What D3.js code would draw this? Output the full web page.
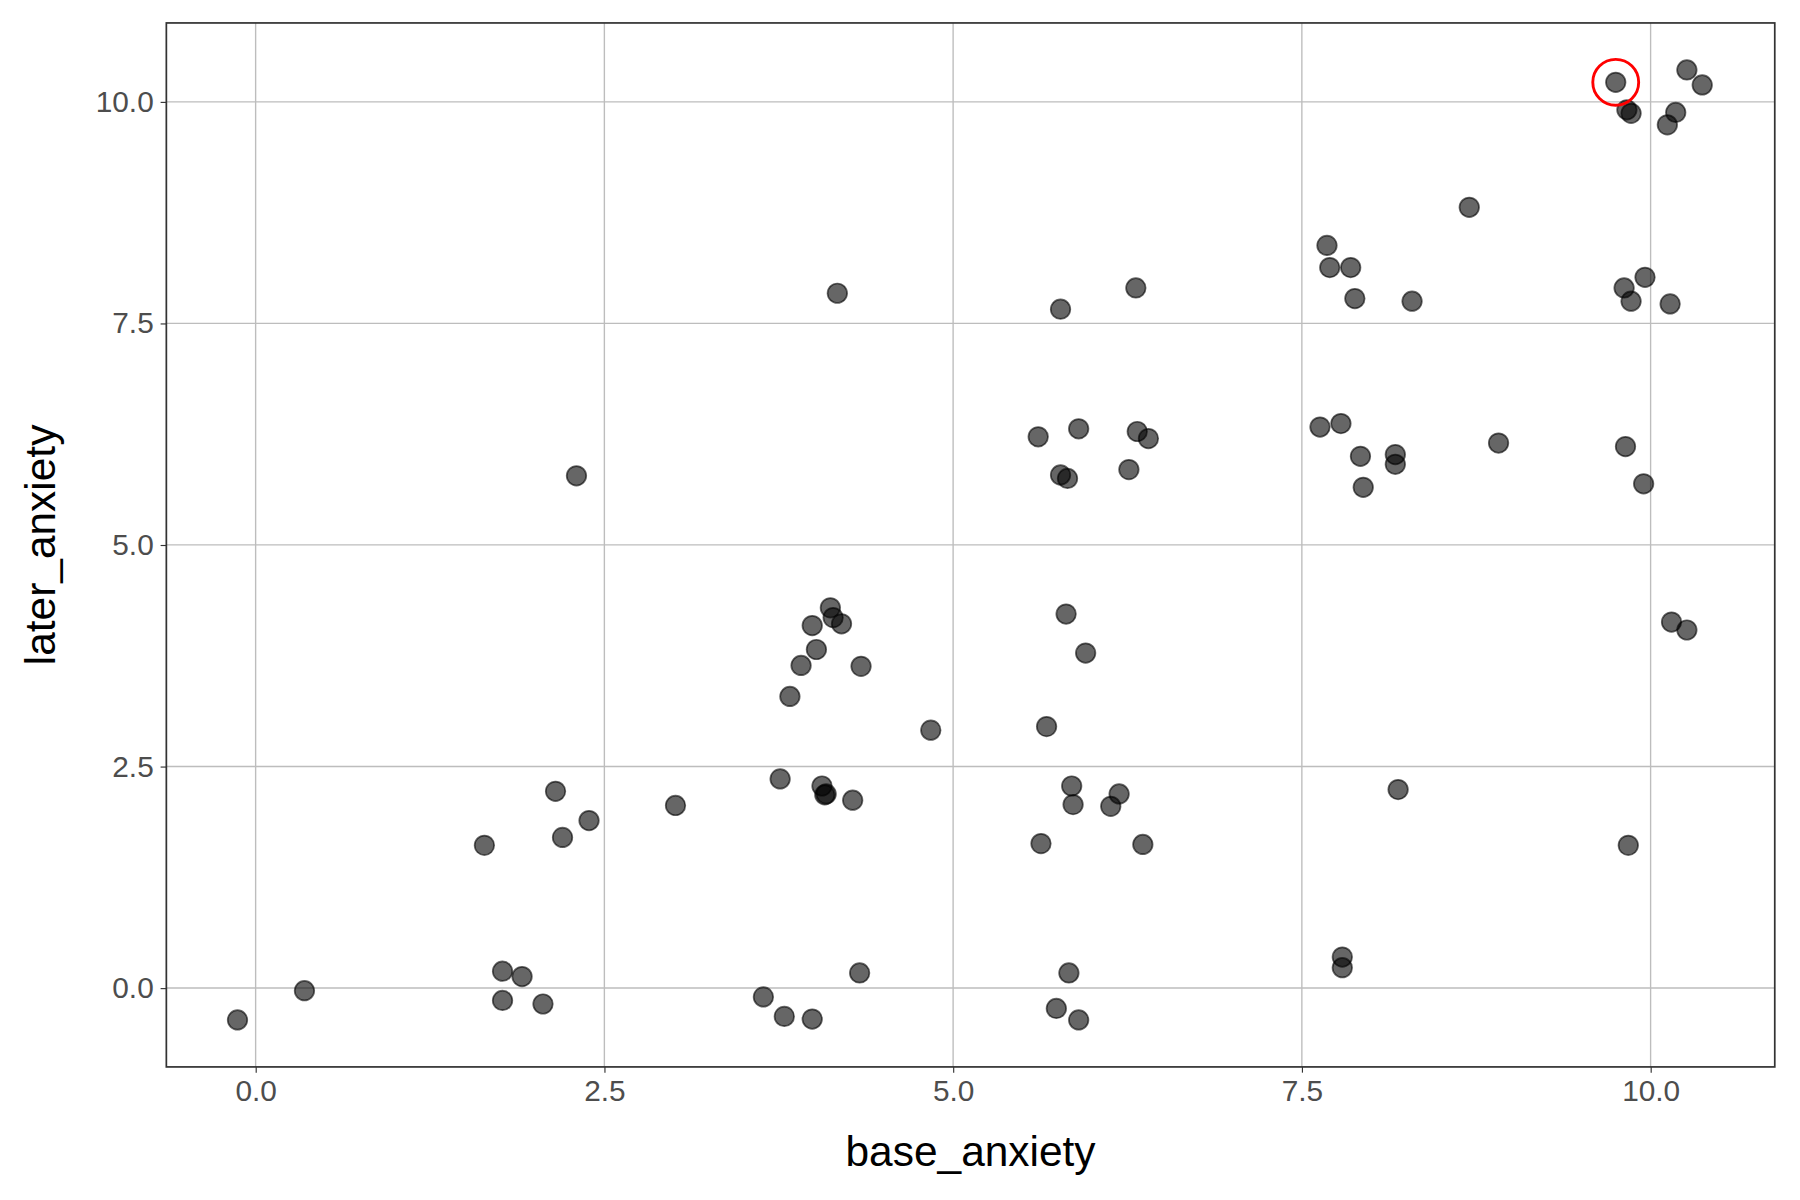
<!DOCTYPE html>
<html><head><meta charset="utf-8">
<script src="https://cdn.jsdelivr.net/npm/d3@7"></script>
<style>body{margin:0;background:#fff}svg{display:block}text{font-family:"Liberation Sans",Arial,sans-serif}</style>
</head><body>
<script>
// values
const baseAnxiety = [-0.13,0.35,1.64,1.77,1.77,1.91,2.06,2.15,2.20,2.39,2.30,3.01,3.64,3.79,3.99,3.76,4.06,4.08,4.09,4.28,4.33,3.83,3.91,4.02,3.99,4.12,4.14,4.20,4.34,4.17,4.84,5.61,5.77,5.90,5.77,5.82,6.26,6.31,6.32,6.40,5.81,5.95,5.67,5.63,5.85,5.86,6.13,6.19,6.36,5.83,5.74,5.90,7.68,7.70,7.85,7.88,8.29,8.70,7.63,7.78,7.92,7.94,8.17,8.17,8.19,8.91,7.79,7.79,9.75,9.83,9.86,10.18,10.12,10.26,10.37,9.81,9.96,9.86,10.14,9.82,9.95,10.15,10.26,9.84];
const laterAnxiety = [-0.36,-0.03,1.61,0.19,-0.14,0.13,-0.18,2.22,1.70,1.89,5.78,2.06,-0.10,-0.32,-0.35,2.36,2.28,2.18,2.19,2.12,0.17,3.29,3.64,3.82,4.09,4.29,4.18,4.11,3.63,7.84,2.91,6.22,7.66,6.31,5.79,5.75,5.85,7.90,6.28,6.20,4.22,3.78,2.95,1.63,2.28,2.07,2.05,2.19,1.62,0.17,-0.23,-0.36,8.38,8.13,8.13,7.78,7.75,8.81,6.33,6.37,6.00,5.65,6.02,5.91,2.24,6.15,0.35,0.23,10.22,9.91,9.87,9.88,9.74,10.36,10.19,7.90,8.02,7.75,7.72,6.11,5.69,4.13,4.04,1.61];
const highlight = {x: 9.75, y: 10.22};
const ticks = [0, 2.5, 5, 7.5, 10];

const W = 1560, H = 1040;
const m = {left: 145, right: 13, top: 20, bottom: 110};
const svg = d3.select("body").append("svg")
  .attr("width", 1800).attr("height", 1200)
  .attr("viewBox", `0 0 1569 1046`);

const x = d3.scaleLinear().domain([-0.64, 10.89]).range([m.left, W - m.right]);
const y = d3.scaleLinear().domain([-0.89, 10.89]).range([H - m.bottom, m.top]);

const grid = svg.append("g").attr("stroke", "#bdbdbd").attr("stroke-width", 1.2);
ticks.forEach(t => {
  grid.append("line").attr("x1", x(t)).attr("x2", x(t)).attr("y1", m.top).attr("y2", H - m.bottom);
  grid.append("line").attr("y1", y(t)).attr("y2", y(t)).attr("x1", m.left).attr("x2", W - m.right);
});

const fmt = d3.format(".1f");
svg.append("g").attr("transform", `translate(0,${H - m.bottom})`)
  .call(d3.axisBottom(x).tickValues(ticks).tickFormat(fmt).tickSize(5).tickPadding(6))
  .call(g => g.select(".domain").remove())
  .call(g => g.selectAll("line").attr("stroke", "#333"))
  .call(g => g.selectAll("text").attr("font-size", 26).attr("fill", "#4d4d4d").style("font-family", "Liberation Sans"));
svg.append("g").attr("transform", `translate(${m.left},0)`)
  .call(d3.axisLeft(y).tickValues(ticks).tickFormat(fmt).tickSize(5).tickPadding(6))
  .call(g => g.select(".domain").remove())
  .call(g => g.selectAll("line").attr("stroke", "#333"))
  .call(g => g.selectAll("text").attr("font-size", 26).attr("fill", "#4d4d4d").style("font-family", "Liberation Sans"));

svg.append("rect").attr("x", m.left).attr("y", m.top)
  .attr("width", W - m.left - m.right).attr("height", H - m.top - m.bottom)
  .attr("fill", "none").attr("stroke", "#333").attr("stroke-width", 1.5);

svg.append("g").selectAll("circle").data(baseAnxiety).join("circle")
  .attr("cx", d => x(d)).attr("cy", (d, i) => y(laterAnxiety[i]))
  .attr("r", 8.5).attr("fill", "#000").attr("fill-opacity", 0.6)
  .attr("stroke", "#000").attr("stroke-opacity", 0.6).attr("stroke-width", 1.5);

svg.append("circle").attr("cx", x(highlight.x)).attr("cy", y(highlight.y))
  .attr("r", 20).attr("fill", "none").attr("stroke", "red").attr("stroke-width", 2.5);

svg.append("text").attr("x", (m.left + W - m.right) / 2).attr("y", 1016)
  .attr("text-anchor", "middle").attr("font-size", 37).text("base_anxiety");
svg.append("text").attr("transform", `translate(48,${(m.top + H - m.bottom) / 2}) rotate(-90)`)
  .attr("text-anchor", "middle").attr("font-size", 37).text("later_anxiety");
</script>
</body></html>
